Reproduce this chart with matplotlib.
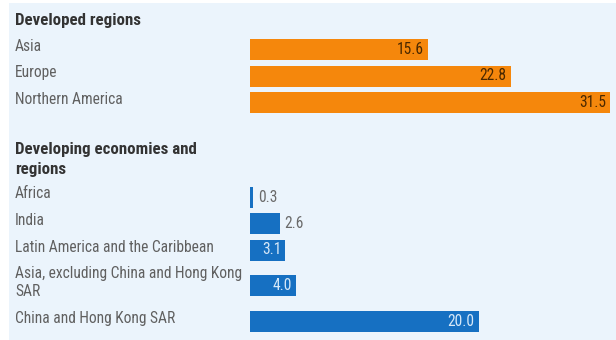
import matplotlib
matplotlib.use("Agg")
import matplotlib.pyplot as plt
from matplotlib.patches import Rectangle

# --- data ---
developed_labels = ["Asia", "Europe", "Northern America"]
developed_values = [15.6, 22.8, 31.5]

developing_labels = [
    "Africa",
    "India",
    "Latin America and the Caribbean",
    "Asia, excluding China and Hong Kong\nSAR",
    "China and Hong Kong SAR",
]
developing_values = [0.3, 2.6, 3.1, 4.0, 20.0]

group_titles = ["Developed regions", "Developing economies and\nregions"]

# --- styling ---
plt.rcParams["font.family"] = ["Roboto Condensed", "DejaVu Sans"]
BG = "#EBF4FC"
ORANGE = "#F5870C"
BLUE = "#1670C2"
LABEL_C = "#606060"
TITLE_C = "#333333"

W, H = 616, 340
fig = plt.figure(figsize=(W / 100, H / 100), dpi=100, facecolor="white")
fig.patches.append(Rectangle((9 / W, 0), 1 - 9 / W, 337 / H, transform=fig.transFigure,
                             facecolor=BG, edgecolor="none", zorder=-10))

# axes in pixel-like units: y runs downward from the top of the figure
x0 = 250
px_per_unit = 11.43
ax = fig.add_axes([x0 / W, 0, (W - x0) / W, 1])
ax.set_xlim(0, (W - x0) / px_per_unit)
ax.set_ylim(H, 0)
ax.axis("off")
ax.patch.set_alpha(0)

pitch = 26.5
bar_h = 21


def row_centers(start, labels):
    lines = [lab.count("\n") for lab in labels]
    ys = [start]
    for i in range(1, len(labels)):
        ys.append(ys[-1] + pitch + 9 * (lines[i] + lines[i - 1]))
    return ys


def draw_group(title, title_y, start, labels, values, color, in_color, out_color):
    ys = row_centers(start, labels)
    ax.barh(ys, values, height=bar_h, color=color, edgecolor="none")
    fig.text(15 / W, 1 - title_y / H, title, ha="left", va="center", fontsize=12.2,
             fontweight="bold", color=TITLE_C, linespacing=1.45)
    for y, lab, v in zip(ys, labels, values):
        fig.text(15 / W, 1 - (y - 3) / H, lab, ha="left", va="center", fontsize=11.2,
                 color=LABEL_C, linespacing=1.3)
        if v >= 3:
            ax.annotate(f"{v:.1f}", (v, y), xytext=(-3, 0), textcoords="offset points",
                        ha="right", va="center", fontsize=11.2, color=in_color)
        else:
            ax.annotate(f"{v:.1f}", (v, y), xytext=(3.5, 0), textcoords="offset points",
                        ha="left", va="center", fontsize=11.2, color=out_color)


draw_group(group_titles[0], 21, 49.5, developed_labels, developed_values,
           ORANGE, "#4A2800", "#4A2800")
draw_group(group_titles[1], 159.5, 197, developing_labels, developing_values,
           BLUE, "#D6E8F8", "#6A6A6A")

fig.savefig("out.png", dpi=100, facecolor=fig.get_facecolor())
